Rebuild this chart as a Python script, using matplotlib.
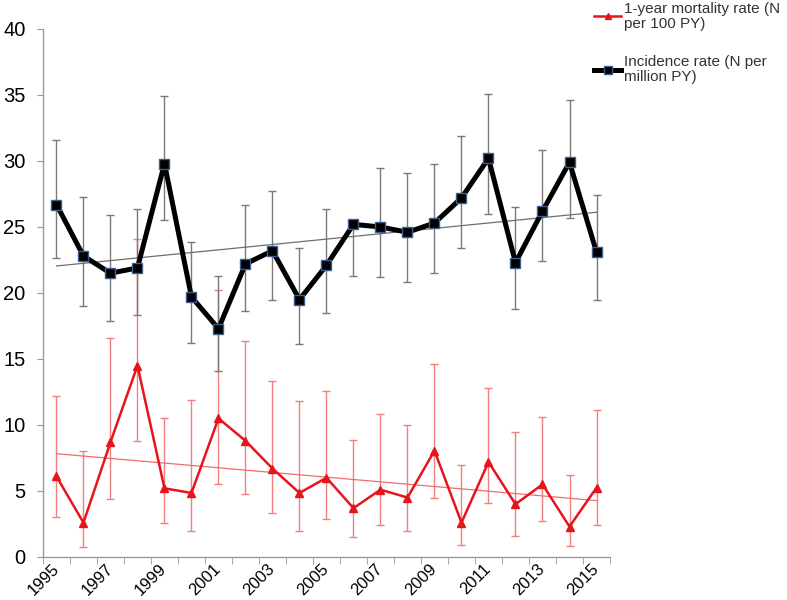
import matplotlib.pyplot as plt
import numpy as np

plt.rcParams['font.family'] = ['Liberation Sans', 'DejaVu Sans']

# years on a category axis
years = [str(y) for y in range(1995, 2016)]

# incidence rate (N per million PY) with CI bounds
incidence = [26.7, 22.8, 21.5, 21.9, 29.8, 19.7, 17.3, 22.2, 23.2, 19.5, 22.1,
             25.2, 25.0, 24.6, 25.3, 27.2, 30.2, 22.3, 26.2, 29.9, 23.1]
incidence_hi = [31.6, 27.3, 25.9, 26.4, 34.9, 23.9, 21.3, 26.7, 27.7, 23.4, 26.4,
                25.2, 29.5, 29.1, 29.8, 31.9, 35.1, 26.5, 30.8, 34.6, 27.4]
incidence_lo = [22.65, 19.0, 17.9, 18.3, 25.5, 16.2, 14.1, 18.6, 19.5, 16.1, 18.5,
                21.3, 21.2, 20.8, 21.5, 23.4, 26.0, 18.8, 22.4, 25.7, 19.5]

# 1-year mortality rate (N per 100 PY) with CI bounds
mortality = [6.1, 2.6, 8.7, 14.5, 5.2, 4.85, 10.5, 8.8, 6.7, 4.85, 6.0,
             3.7, 5.1, 4.5, 8.05, 2.6, 7.2, 4.0, 5.5, 2.3, 5.25]
mortality_hi = [12.2, 8.05, 16.6, 24.1, 10.5, 11.9, 20.2, 16.4, 13.3, 11.8, 12.6,
                8.9, 10.8, 10.0, 14.6, 6.95, 12.8, 9.45, 10.6, 6.2, 11.1]
mortality_lo = [3.0, 0.76, 4.4, 8.8, 2.6, 1.95, 5.5, 4.75, 3.3, 1.95, 2.9,
                1.5, 2.45, 1.95, 4.45, 0.93, 4.1, 1.57, 2.7, 0.86, 2.45]

x = np.arange(len(years))
inc = np.array(incidence)
mor = np.array(mortality)

fig = plt.figure(figsize=(7.87, 6.0), dpi=100)
ax = fig.add_axes([0.0546, 0.0717, 0.7205, 0.88])

# error bars
ax.errorbar(x, mor, yerr=[mor - np.array(mortality_lo), np.array(mortality_hi) - mor],
            fmt='none', ecolor='#f07f7f', elinewidth=1.0, capsize=3, capthick=1.0, zorder=2)
ax.errorbar(x, inc, yerr=[inc - np.array(incidence_lo), np.array(incidence_hi) - inc],
            fmt='none', ecolor='#7a7a7a', elinewidth=1.0, capsize=3, capthick=1.0, zorder=2)

# linear trends
for vals, col in [(mor, '#f26b6b'), (inc, '#6e6e6e')]:
    k, b = np.polyfit(x, vals, 1)
    ax.plot(x, k * x + b, color=col, lw=0.9, zorder=3)

ax.plot(x, mor, color='#e8141c', lw=1.8, marker='^', ms=6, mfc='#e8141c',
        mec='#e8141c', zorder=4, label='1-year mortality rate (N\nper 100 PY)')
ax.plot(x, inc, color='black', lw=3.6, marker='s', ms=7, mfc='black',
        mec='#3d5f8c', mew=1.0, zorder=5, label='Incidence rate (N per\nmillion PY)')

ax.set_xlim(-0.5, len(years) - 0.5)
ax.set_ylim(0, 40)
ax.set_yticks(range(0, 41, 5))
ax.set_xticks(x[::2])
ax.set_xticklabels(years[::2], rotation=45, ha='right', va='center',
                   rotation_mode='anchor', fontsize=12)
ax.set_xticks(np.arange(-0.5, len(years)), minor=True)
ax.tick_params(axis='x', which='major', length=0, pad=7)
ax.tick_params(axis='x', which='minor', length=5, color='#999999')
ax.tick_params(axis='y', length=4.5, color='#999999', labelsize=14.5, pad=8)

for side in ['top', 'right']:
    ax.spines[side].set_visible(False)
for side in ['left', 'bottom']:
    ax.spines[side].set_color('#999999')
    ax.spines[side].set_linewidth(1.0)

handles, labels = ax.get_legend_handles_labels()
leg = fig.legend(handles, labels, loc='upper left', bbox_to_anchor=(0.737, 1.02),
                 frameon=False, fontsize=11, handlelength=1.8, handletextpad=0.15,
                 labelspacing=1.6, markerscale=0.8, labelcolor='#333333')
for t in leg.get_texts():
    t.set_linespacing(1.1)

fig.savefig('out.png', dpi=100)
